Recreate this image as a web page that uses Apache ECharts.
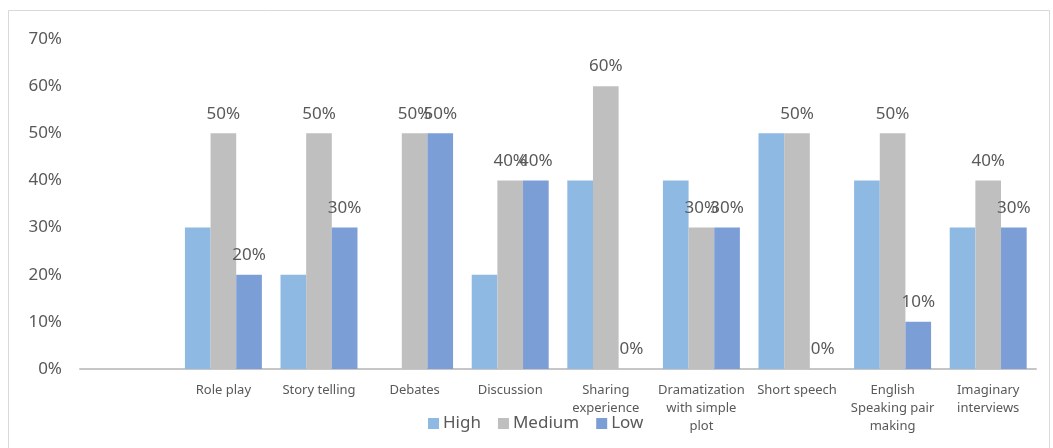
<!DOCTYPE html>
<html>
<head>
<meta charset="utf-8">
<script src="https://cdn.jsdelivr.net/npm/echarts@6/dist/echarts.min.js"></script>
<style>
  html, body { margin: 0; padding: 0; background: #ffffff; }
  #chart { width: 1053px; height: 448px; }
</style>
</head>
<body>
<div id="chart"></div>
<script>
// Activity categories (the first slot is left blank on purpose)
const categories = [
  '',
  'Role play',
  'Story telling',
  'Debates',
  'Discussion',
  'Sharing\nexperience',
  'Dramatization\nwith simple\nplot',
  'Short speech',
  'English\nSpeaking pair\nmaking',
  'Imaginary\ninterviews'
];

// Share of responses per level, in percent
const highValues   = [null, 30, 20, 0, 20, 40, 40, 50, 40, 30];
const mediumValues = [null, 50, 50, 50, 40, 60, 30, 50, 50, 40];
const lowValues    = [null, 20, 30, 50, 40, 0, 30, 0, 10, 30];

const seriesNames = ['High', 'Medium', 'Low'];
const yTicks = { min: 0, max: 70, interval: 10 };

const textColor = '#595959';
const fontFamily = '"Noto Sans", "Liberation Sans", sans-serif';

const chart = echarts.init(document.getElementById('chart'), null, { renderer: 'canvas' });

const valueLabel = {
  show: true,
  position: 'top',
  distance: 11,
  color: textColor,
  fontFamily: fontFamily,
  fontSize: 17,
  formatter: p => p.value + '%'
};

chart.setOption({
  animation: false,
  backgroundColor: '#ffffff',
  textStyle: { fontFamily: fontFamily, color: textColor },
  graphic: [{
    type: 'rect',
    shape: { x: 8.5, y: 10.5, width: 1041, height: 460 },
    style: { fill: 'none', stroke: '#d9d9d9', lineWidth: 1 },
    silent: true,
    z: -10
  }],
  grid: { left: 80, right: 17, top: 39, bottom: 79, containLabel: false },
  legend: {
    left: 423,
    top: 410,
    itemWidth: 11,
    itemHeight: 11,
    itemGap: 17,
    icon: 'rect',
    textStyle: { color: textColor, fontFamily: fontFamily, fontSize: 17, padding: [0, 0, 0, -1] },
    data: seriesNames
  },
  xAxis: {
    type: 'category',
    data: categories,
    axisLine: { show: true, lineStyle: { color: '#c6c6c6', width: 2 } },
    axisTick: { show: false },
    axisLabel: {
      interval: 0,
      color: textColor,
      fontFamily: fontFamily,
      fontSize: 13,
      lineHeight: 18,
      margin: 12
    }
  },
  yAxis: {
    type: 'value',
    min: yTicks.min,
    max: yTicks.max,
    interval: yTicks.interval,
    axisLine: { show: false },
    axisTick: { show: false },
    splitLine: { show: false },
    axisLabel: {
      color: textColor,
      fontFamily: fontFamily,
      fontSize: 17,
      margin: 18,
      formatter: '{value}%'
    }
  },
  series: [
    {
      name: seriesNames[0],
      type: 'bar',
      data: highValues,
      barGap: '0%',
      barCategoryGap: '19.5%',
      itemStyle: { color: '#8db9e2' },
      label: { show: false }
    },
    {
      name: seriesNames[1],
      type: 'bar',
      data: mediumValues,
      barGap: '0%',
      barCategoryGap: '19.5%',
      itemStyle: { color: '#bfbfbf' },
      label: valueLabel
    },
    {
      name: seriesNames[2],
      type: 'bar',
      data: lowValues,
      barGap: '0%',
      barCategoryGap: '19.5%',
      itemStyle: { color: '#7c9ed6' },
      label: valueLabel
    }
  ]
});
</script>
</body>
</html>
